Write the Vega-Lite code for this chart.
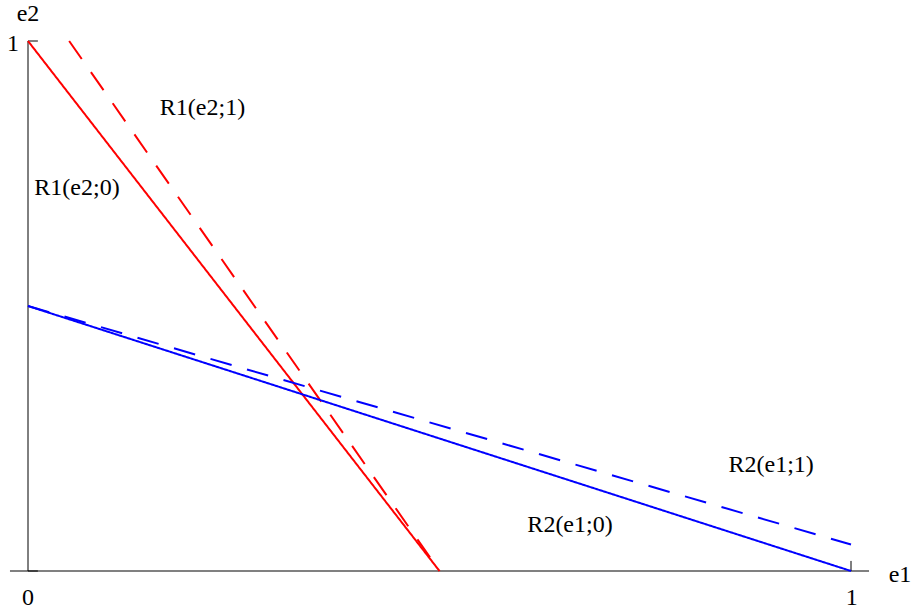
{
  "$schema": "https://vega.github.io/schema/vega-lite/v6.json",
  "width": 823,
  "height": 530,
  "autosize": {"type": "none"},
  "padding": {"left": 28, "top": 41, "right": 62, "bottom": 40},
  "background": "white",
  "config": {"view": {"stroke": null}},
  "layer": [
    {
      "data": {"values": [{"x": -0.0219, "x2": 1.0219, "y": 0}]},
      "mark": {"type": "rule", "color": "#808080", "strokeWidth": 2, "clip": false},
      "encoding": {
        "x": {"field": "x", "type": "quantitative", "scale": {"domain": [0, 1], "nice": false, "zero": false}, "axis": null},
        "x2": {"field": "x2"},
        "y": {"field": "y", "type": "quantitative", "scale": {"domain": [0, 1], "nice": false, "zero": false}, "axis": null}
      }
    },
    {
      "data": {"values": [
        {"x": 0, "x2": 0, "y": 0, "y2": 1, "w": "axis"},
        {"x": 0, "x2": 0.012, "y": 1, "y2": 1, "w": "tick"},
        {"x": 0, "x2": 0.012, "y": 0, "y2": 0, "w": "tick"},
        {"x": 1, "x2": 1, "y": 0, "y2": 0.019, "w": "tick"}
      ]},
      "mark": {"type": "rule", "color": "#000000", "strokeWidth": 1, "clip": false},
      "encoding": {
        "x": {"field": "x", "type": "quantitative"},
        "x2": {"field": "x2"},
        "y": {"field": "y", "type": "quantitative"},
        "y2": {"field": "y2"}
      }
    },
    {
      "data": {"values": [
        {"series": "R1(e2;0)", "player": "R1", "belief": "0", "e1": 0, "e2": 1},
        {"series": "R1(e2;0)", "player": "R1", "belief": "0", "e1": 0.5, "e2": 0},
        {"series": "R1(e2;1)", "player": "R1", "belief": "1", "e1": 0.05, "e2": 1},
        {"series": "R1(e2;1)", "player": "R1", "belief": "1", "e1": 0.5, "e2": 0},
        {"series": "R2(e1;0)", "player": "R2", "belief": "0", "e1": 0, "e2": 0.5},
        {"series": "R2(e1;0)", "player": "R2", "belief": "0", "e1": 1, "e2": 0},
        {"series": "R2(e1;1)", "player": "R2", "belief": "1", "e1": 0, "e2": 0.5},
        {"series": "R2(e1;1)", "player": "R2", "belief": "1", "e1": 1, "e2": 0.05}
      ]},
      "mark": {"type": "line", "strokeWidth": 2, "clip": false},
      "encoding": {
        "x": {"field": "e1", "type": "quantitative"},
        "y": {"field": "e2", "type": "quantitative"},
        "detail": {"field": "series"},
        "color": {"field": "player", "type": "nominal", "scale": {"domain": ["R1", "R2"], "range": ["#ff0000", "#0000ff"]}, "legend": null},
        "strokeDash": {"field": "belief", "type": "nominal", "scale": {"domain": ["0", "1"], "range": [[1, 0], [22, 16]]}, "legend": null}
      }
    },
    {
      "data": {"values": [
        {"label": "R1(e2;1)", "e1": 0.212, "e2": 0.86},
        {"label": "R1(e2;0)", "e1": 0.0595, "e2": 0.709},
        {"label": "R2(e1;1)", "e1": 0.903, "e2": 0.186},
        {"label": "R2(e1;0)", "e1": 0.6586, "e2": 0.0736},
        {"label": "e2", "e1": 0.0, "e2": 1.0377},
        {"label": "1", "e1": -0.0182, "e2": 0.981},
        {"label": "0", "e1": 0, "e2": -0.0642},
        {"label": "1", "e1": 1.001, "e2": -0.0642},
        {"label": "e1", "e1": 1.0595, "e2": -0.0208}
      ]},
      "mark": {"type": "text", "font": "Times New Roman, Liberation Serif, DejaVu Serif, serif", "fontSize": 24, "align": "center", "baseline": "alphabetic", "color": "black", "clip": false},
      "encoding": {
        "x": {"field": "e1", "type": "quantitative"},
        "y": {"field": "e2", "type": "quantitative"},
        "text": {"field": "label"}
      }
    }
  ]
}
